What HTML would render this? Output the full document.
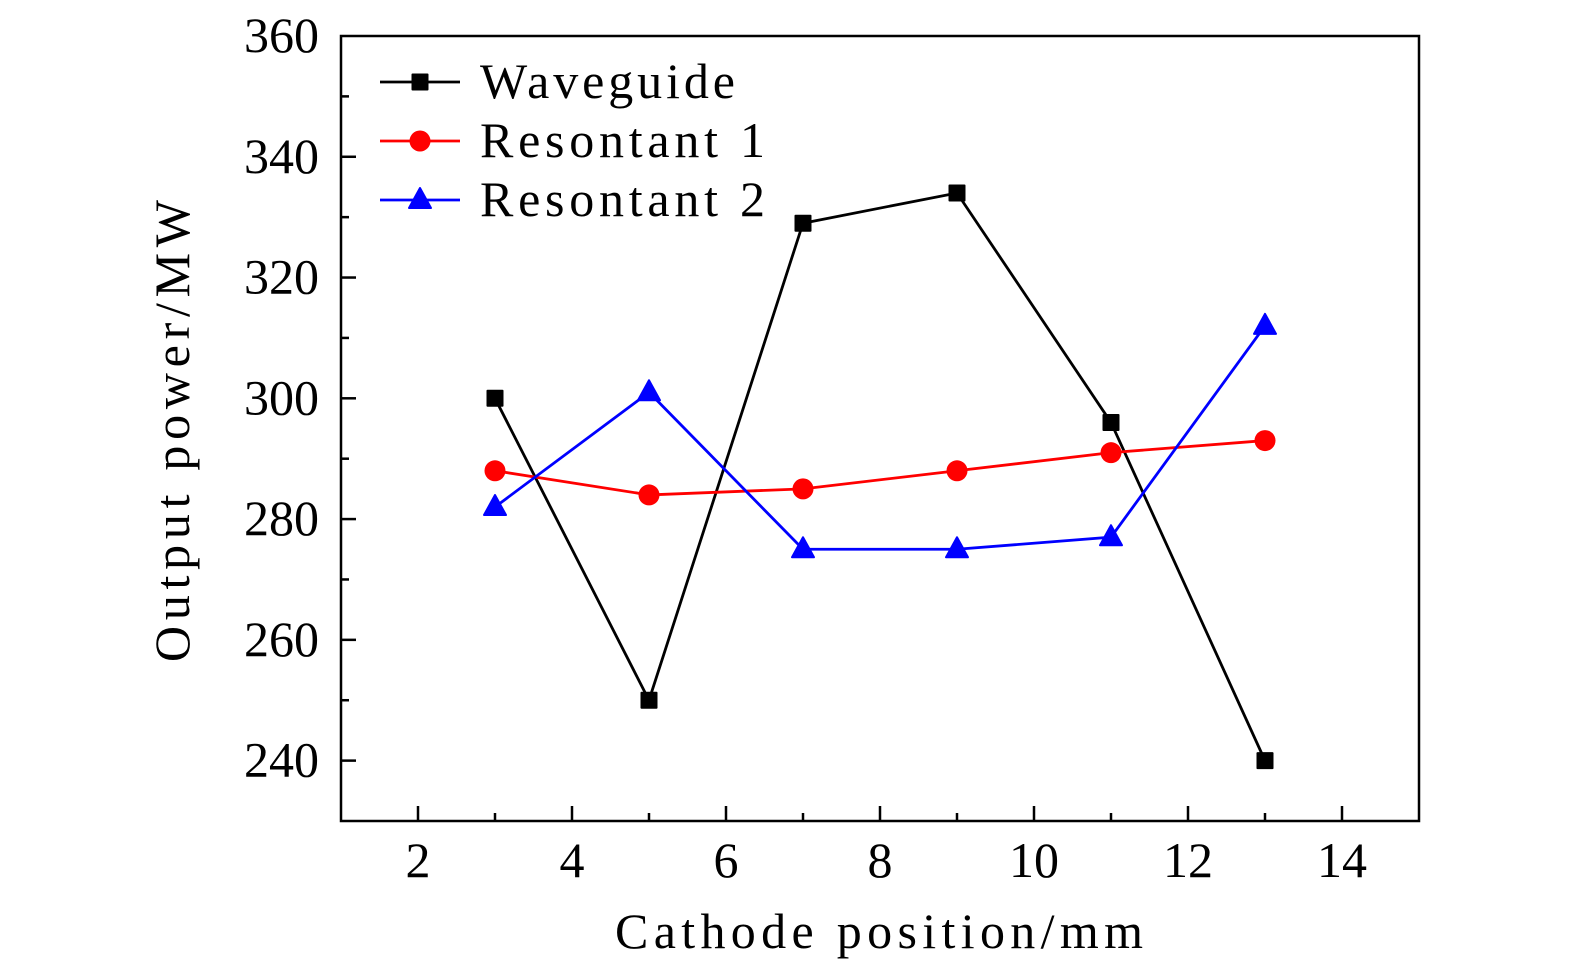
<!DOCTYPE html>
<html><head><meta charset="utf-8"><style>
html,body{margin:0;padding:0;background:#fff;}
svg text{font-family:"Liberation Serif",serif;fill:#000;}
</style></head><body>
<svg id="chart" width="1575" height="974" xmlns="http://www.w3.org/2000/svg"></svg>
<script>
const xCategories=[3,5,7,9,11,13];
const waveguide=[300,250,329,334,296,240];
const resonant1=[288,284,285,288,291,293];
const resonant2=[282,301,275,275,277,312];
const xTicks=[2,4,6,8,10,12,14];
const yTicks=[240,260,280,300,320,340,360];
const seriesNames=["Waveguide","Resontant 1","Resontant 2"];

const L=341,R=1419,T=36,B=821,xMin=1,xMax=15,yMin=230,yMax=360;
const sx=v=>L+(v-xMin)/(xMax-xMin)*(R-L);
const sy=v=>B-(v-yMin)/(yMax-yMin)*(B-T);
const svg=document.getElementById('chart');
const NS="http://www.w3.org/2000/svg";
function mk(tag,attrs,parent){const e=document.createElementNS(NS,tag);for(const k in attrs)e.setAttribute(k,attrs[k]);(parent||svg).appendChild(e);return e;}

const frame=mk('rect',{x:L,y:T,width:R-L,height:B-T,fill:'none',stroke:'#000','stroke-width':2.5});



for(let v=xMin;v<=xMax;v++){
  if(v===xMin||v===xMax)continue;
  const major=v%2===0;
  const t=mk('line',{x1:sx(v),x2:sx(v),y1:B,y2:B-(major?15:8),stroke:'#000','stroke-width':2.5});
  
  
}
xTicks.forEach(v=>{
  const t=mk('text',{x:sx(v),y:877,'font-size':50,'text-anchor':'middle'});
  t.textContent=v;
  
  
});
for(let v=yMin;v<=yMax;v+=10){
  if(v===yMin||v===yMax)continue;
  const major=v%20===0;
  const t=mk('line',{x1:L,x2:L+(major?15:8),y1:sy(v),y2:sy(v),stroke:'#000','stroke-width':2.5});
  
  
}
yTicks.forEach(v=>{
  const t=mk('text',{x:319,y:sy(v)+16,'font-size':50,'text-anchor':'end'});
  t.textContent=v;
  
  
});
const xt=mk('text',{x:879,y:948,'font-size':50,'text-anchor':'middle',textLength:528,lengthAdjust:'spacing'});
xt.textContent='Cathode position/mm';


const yt=mk('text',{x:0,y:0,'font-size':50,'text-anchor':'middle',textLength:462,lengthAdjust:'spacing',transform:'translate(189,431) rotate(-90)'});
yt.textContent='Output power/MW';



function marker(kind,x,y,color,g){
  let m;
  if(kind==='square') m=mk('rect',{x:x-8.5,y:y-8.5,width:17,height:17,fill:color,rx:1},g);
  else if(kind==='circle') m=mk('circle',{cx:x,cy:y,r:10.5,fill:color},g);
  else m=mk('polygon',{points:`${x},${y-12} ${x+11},${y+8} ${x-11},${y+8}`,fill:color,stroke:color,'stroke-width':2,'stroke-linejoin':'round'},g);
  return m;
}
const series=[[waveguide,'#000','square','waveguide'],[resonant1,'#f00','circle','resonant-1'],[resonant2,'#00f','triangle','resonant-2']];
series.forEach(([vals,color,kind,name])=>{
  const g=mk('g',{});
  
  
  const pts=vals.map((v,i)=>sx(xCategories[i])+','+sy(v)).join(' ');
  const pl=mk('polyline',{points:pts,fill:'none',stroke:color,'stroke-width':2.8},g);
  
  
  vals.forEach((v,i)=>{
    const m=marker(kind,sx(xCategories[i]),sy(v),color,g);
    
    
  });
});

const lg=mk('g',{});


const legendRows=[82,141,200];
series.forEach(([vals,color,kind,name],i)=>{
  const y=legendRows[i];
  const ln=mk('line',{x1:380,x2:460,y1:y,y2:y,stroke:color,'stroke-width':2.8},lg);
  
  
  const m=marker(kind,420,y,color,lg);
  
  
  const t=mk('text',{x:480,y:y+16,'font-size':50,textLength:i===0?255:285,lengthAdjust:'spacing'},lg);
  t.textContent=seriesNames[i];
  
  
});
</script>
</body></html>
